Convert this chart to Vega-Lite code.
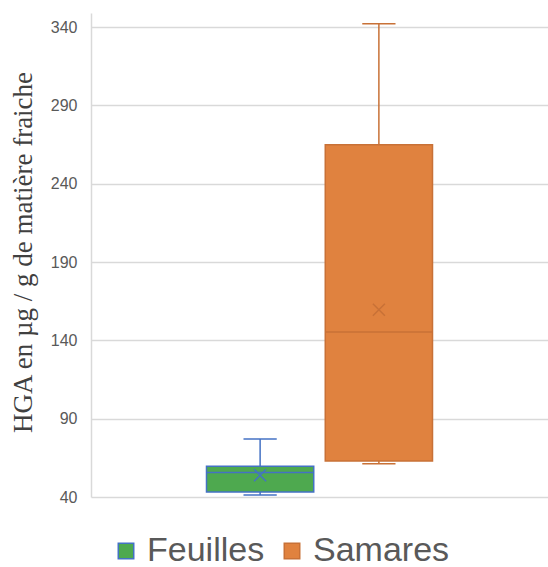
{
  "$schema": "https://vega.github.io/schema/vega-lite/v6.json",
  "autosize": {"type": "none"},
  "padding": {"left": 91, "top": 13, "right": 0, "bottom": 70},
  "width": 457,
  "height": 484,
  "background": "white",
  "data": {
    "values": [
      {"series": "Feuilles", "min": 41.3, "q1": 43.2, "median": 55.6, "q3": 59.6, "max": 77.0, "mean": 53.9},
      {"series": "Samares", "min": 61.3, "q1": 63.0, "median": 145.3, "q3": 264.9, "max": 342.2, "mean": 159.6}
    ]
  },
  "config": {
    "view": {"stroke": null},
    "axis": {"labelFont": "Liberation Sans", "titleFont": "Liberation Serif"},
    "legend": {
      "title": null,
      "orient": "none",
      "direction": "horizontal",
      "legendX": 18,
      "legendY": 521,
      "symbolType": "square",
      "symbolSize": 240,
      "symbolStrokeWidth": 1.5,
      "labelFont": "Liberation Sans",
      "labelFontSize": 34,
      "labelColor": "#595959",
      "labelOffset": 4,
      "columnPadding": 10
    }
  },
  "encoding": {
    "x": {
      "field": "series",
      "type": "nominal",
      "axis": null,
      "scale": {"paddingInner": 0.097, "paddingOuter": 0.9725}
    }
  },
  "layer": [
    {
      "mark": {"type": "bar", "strokeWidth": 1.5},
      "encoding": {
        "y": {
          "field": "q1",
          "type": "quantitative",
          "scale": {"domain": [40, 349], "nice": false, "zero": false},
          "axis": {
            "values": [40, 90, 140, 190, 240, 290, 340],
            "title": "HGA en µg / g de matière fraiche",
            "titleFontSize": 27,
            "titleFontWeight": "normal",
            "titleColor": "#404040",
            "titleBaseline": "alphabetic",
            "titleX": -60,
            "titleY": 239,
            "labelFontSize": 16,
            "labelColor": "#595959",
            "labelPadding": 14,
            "ticks": false,
            "domain": true,
            "domainColor": "#d9d9d9",
            "domainWidth": 1.5,
            "gridColor": "#d9d9d9",
            "gridWidth": 1.5
          }
        },
        "y2": {"field": "q3"},
        "fill": {
          "field": "series",
          "type": "nominal",
          "title": null,
          "scale": {"domain": ["Feuilles", "Samares"], "range": ["#4EA94F", "#E0823F"]}
        },
        "stroke": {
          "field": "series",
          "type": "nominal",
          "title": null,
          "scale": {"domain": ["Feuilles", "Samares"], "range": ["#4472C4", "#C87137"]}
        }
      }
    },
    {
      "mark": {"type": "rule", "strokeWidth": 1.5},
      "encoding": {
        "y": {"field": "max", "type": "quantitative"},
        "y2": {"field": "q3"},
        "stroke": {"field": "series", "type": "nominal", "title": null}
      }
    },
    {
      "mark": {"type": "rule", "strokeWidth": 1.5},
      "encoding": {
        "y": {"field": "min", "type": "quantitative"},
        "y2": {"field": "q1"},
        "stroke": {"field": "series", "type": "nominal", "title": null}
      }
    },
    {
      "mark": {"type": "rule", "strokeWidth": 1.5},
      "encoding": {
        "x": {"field": "series", "type": "nominal", "bandPosition": 0},
        "x2": {"field": "series", "bandPosition": 1},
        "y": {"field": "median", "type": "quantitative"},
        "stroke": {"field": "series", "type": "nominal", "title": null}
      }
    },
    {
      "mark": {"type": "rule", "strokeWidth": 1.5},
      "encoding": {
        "x": {"field": "series", "type": "nominal", "bandPosition": 0.345},
        "x2": {"field": "series", "bandPosition": 0.655},
        "y": {"field": "max", "type": "quantitative"},
        "stroke": {"field": "series", "type": "nominal", "title": null}
      }
    },
    {
      "mark": {"type": "rule", "strokeWidth": 1.5},
      "encoding": {
        "x": {"field": "series", "type": "nominal", "bandPosition": 0.345},
        "x2": {"field": "series", "bandPosition": 0.655},
        "y": {"field": "min", "type": "quantitative"},
        "stroke": {"field": "series", "type": "nominal", "title": null}
      }
    },
    {
      "mark": {"type": "point", "shape": "M-1,-1L1,1M-1,1L1,-1", "size": 144, "strokeWidth": 1.5, "filled": false, "opacity": 1},
      "encoding": {
        "y": {"field": "mean", "type": "quantitative"},
        "stroke": {"field": "series", "type": "nominal", "title": null}
      }
    }
  ]
}
